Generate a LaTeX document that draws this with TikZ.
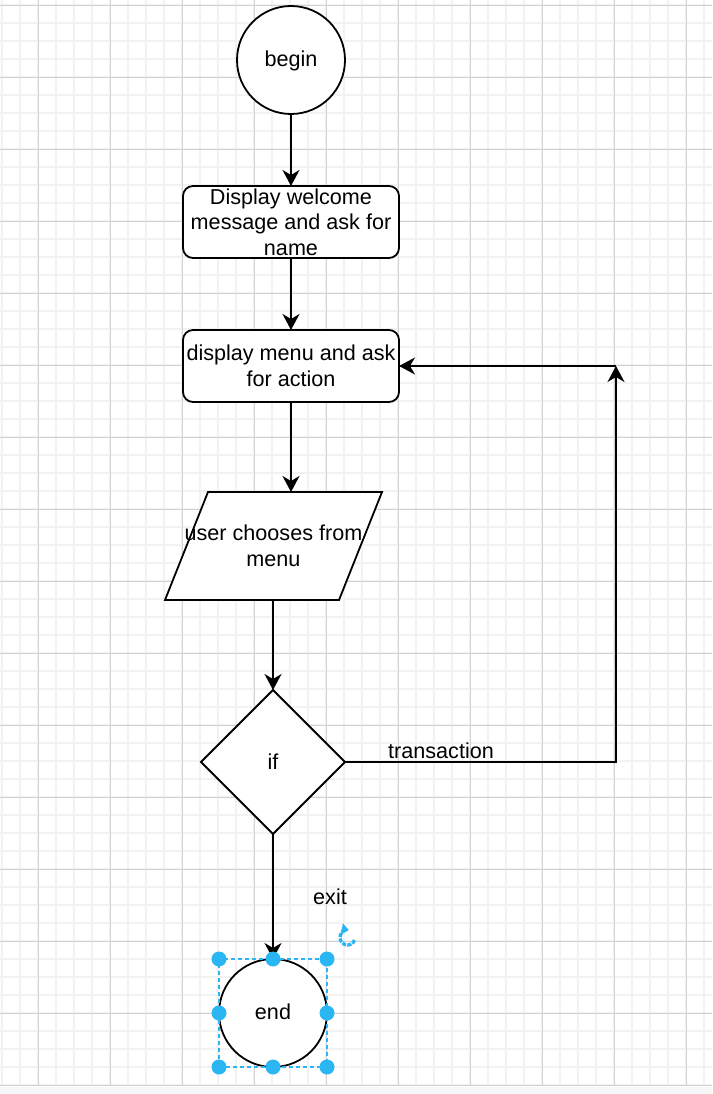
\documentclass[tikz,border=0pt]{standalone}
\usepackage{fontspec}
\setmainfont{Liberation Sans}
\usetikzlibrary{arrows.meta,shapes.geometric,calc}
\definecolor{gridminor}{HTML}{F2F2F2}
\definecolor{gridmajor}{HTML}{D2D2D2}
\definecolor{selblue}{HTML}{29B6F2}
\definecolor{bandgray}{HTML}{F6F7F9}
\pgfdeclarelayer{bg}
\pgfsetlayers{bg,main}

\begin{document}
\begin{tikzpicture}[x=1pt,y=-1pt,
  every node/.style={font=\fontsize{21.6}{25.5}\selectfont, text=black, outer sep=0},
  shapeline/.style={draw=black, line width=1.8pt, fill=white},
  terminal/.style={shapeline, circle, minimum size=108pt, inner sep=0, text height=17pt, text depth=4.5pt},
  procbox/.style={shapeline, rectangle, rounded corners=10pt, minimum width=216pt, minimum height=72pt, align=center, inner sep=0},
  inout/.style={minimum width=217pt, minimum height=108pt, align=center, inner sep=0},
  decision/.style={shapeline, diamond, aspect=1, minimum width=144pt, minimum height=144pt, inner sep=0},
  flow/.style={draw=black, line width=1.8pt, -{Stealth[length=16pt,width=17pt,inset=5pt]}},
  edgelabel/.style={inner sep=0},
  selbox/.style={draw=selblue, line width=1.3pt, dash pattern=on 4pt off 3pt, minimum size=108pt, inner sep=0},
  handle/.style={fill=selblue},
]
\useasboundingbox (0,0) rectangle (712,1094);

% background grid
\begin{pgfonlayer}{bg}
  \fill[white] (0,0) rectangle (712,1094);
  \foreach \i in {0,...,39}
    \draw[gridminor, line width=1.8pt] (2.3+18*\i,0) -- (2.3+18*\i,1086);
  \foreach \k in {0,...,60}
    \draw[gridminor, line width=1.8pt] (0,5.3+18*\k) -- (712,5.3+18*\k);
  \foreach \j in {0,...,9}
    \draw[gridmajor, line width=1.2pt] (38.3+72*\j,0) -- (38.3+72*\j,1086);
  \foreach \k in {0,...,15}
    \draw[gridmajor, line width=1.2pt] (0,5.3+72*\k) -- (712,5.3+72*\k);
  \fill[bandgray] (0,1086.5) rectangle (712,1094);
\end{pgfonlayer}

% flowchart nodes
\node[terminal] (begin) at (291,60) {begin};
\node[procbox] (r1) at (291,222) {Display welcome\\message and ask for\\name};
\node[procbox] (r2) at (291,366) {display menu and ask\\for action};
\node[inout] (par) at (273.5,546) {user chooses from\\menu};
\begin{pgfonlayer}{bg}
  \draw[shapeline] ($(par.north west)+(43,0)$) -- (par.north east)
    -- ($(par.south east)-(43,0)$) -- (par.south west) -- cycle;
\end{pgfonlayer}
\node[decision] (if) at (273,762) {if};
\node[terminal] (end) at (273,1013) {end};
\coordinate (loop) at (616,366);

% connectors
\draw[flow] (begin) -- (r1);
\draw[flow] (r1) -- (r2);
\draw[flow] (r2.south) -- (r2.south |- par.north);
\draw[flow] (if.north |- par.south) -- (if.north);
\draw[flow] (if.east) -| (loop);
\draw[flow] (loop) -- (r2.east);
\draw[flow] (if.south) -- (end.north);

% edge labels
\node[edgelabel] (tlabel) at (441,751) {transaction};
\node[edgelabel] (xlabel) at (330,897) {exit};

% selection frame around the end terminal, with its rotate icon
\node[selbox] (sel) at (end.center) {};
\foreach \a in {north west,north,north east,east,south east,south,south west,west}
  \fill[handle] (sel.\a) circle (7.5pt);
\draw[selblue, line width=3.4pt, dash pattern=on 4pt off 1.3pt, -{Triangle[length=7pt,width=11pt]}]
  ($(sel.north east)+(20.5,-21.5)$) ++(20:7.5) arc[start angle=20, end angle=280, radius=7.5];
\end{tikzpicture}
\end{document}
